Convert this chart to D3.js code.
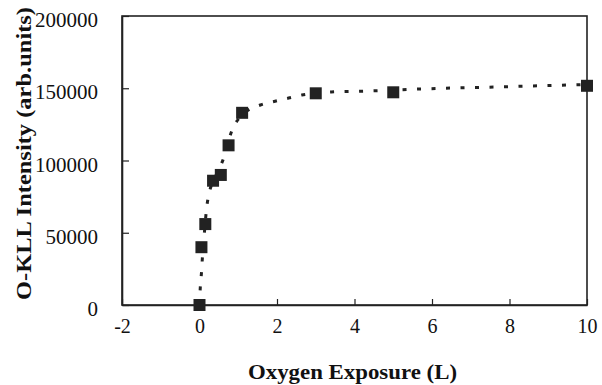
<!DOCTYPE html>
<html>
<head>
<meta charset="utf-8">
<script src="https://cdn.jsdelivr.net/npm/d3@7"></script>
<style>
  body { margin: 0; background: #fff; }
  svg { display: block; }
  svg text { font-family: "Liberation Serif", "DejaVu Serif", serif; }
</style>
</head>
<body>
<div id="chart"></div>
<script>
// measured exposure points
const exposure = [0, 0.05, 0.15, 0.35, 0.55, 0.75, 1.1, 3, 5, 10]
const intensity = [0, 40000, 56000, 86000, 90000, 110500, 133000, 146500, 147200, 151700]

// dotted fit curve
const fitExposure = [0, 0.02, 0.05, 0.08, 0.12, 0.19, 0.25, 0.4, 0.61, 0.84, 1.1, 1.57, 1.95, 2.3, 2.64, 3, 3.4, 4.1, 4.5, 5.5, 7.8, 10]
const fitIntensity = [0, 12000, 22000, 35000, 48000, 68500, 77500, 88000, 100700, 121000, 131500, 138400, 141000, 143200, 145300, 146600, 147400, 147900, 148200, 149300, 151000, 152600]

const xTicks = [-2, 0, 2, 4, 6, 8, 10]
const yTicks = [0, 50000, 100000, 150000, 200000]

const width = 602, height = 385
const margin = {top: 16, right: 15, bottom: 80, left: 122}

const x = d3.scaleLinear([-2, 10], [margin.left, width - margin.right])
const y = d3.scaleLinear([0, 200000], [height - margin.bottom, margin.top])

const svg = d3.select("#chart").append("svg")
  .attr("width", width)
  .attr("height", height)
  .attr("fill", "#111")

// frame
svg.append("rect")
  .attr("x", x(-2))
  .attr("y", y(200000))
  .attr("width", x(10) - x(-2))
  .attr("height", y(0) - y(200000))
  .attr("fill", "none")
  .attr("stroke", "#222")
  .attr("stroke-width", 1.6)

svg.append("g")
  .attr("transform", `translate(0,${y(0)})`)
  .call(d3.axisBottom(x).tickValues(xTicks).tickFormat(d => String(d)).tickSize(-6).tickPadding(14).tickSizeOuter(0))
  .attr("font-size", 20)
  .call(g => g.select(".domain").attr("stroke", "#222").attr("stroke-width", 1.6))
  .call(g => g.selectAll(".tick line").attr("stroke", "#222").attr("stroke-width", 1.2))
  .call(g => g.selectAll(".tick text").attr("fill", "#111"))

svg.append("g")
  .attr("transform", `translate(${x(-2)},0)`)
  .call(d3.axisLeft(y).tickValues(yTicks).tickFormat(d3.format("d")).tickSize(-7).tickPadding(24).tickSizeOuter(0))
  .attr("font-size", 21)
  .call(g => g.select(".domain").attr("stroke", "#222").attr("stroke-width", 1.6))
  .call(g => g.selectAll(".tick line").attr("stroke", "#222").attr("stroke-width", 1.2))
  .call(g => g.selectAll(".tick text").attr("dy", "0.5em").attr("fill", "#111"))

// fit line
const line = d3.line()
  .x(d => x(d[0]))
  .y(d => y(d[1]))
  .curve(d3.curveMonotoneX)

svg.append("path")
  .datum(d3.zip(fitExposure, fitIntensity))
  .attr("d", line)
  .attr("fill", "none")
  .attr("stroke", "#222")
  .attr("stroke-width", 3)
  .attr("stroke-dasharray", "4,10.5")

// markers
const size = 12
svg.append("g")
  .selectAll("rect")
  .data(d3.zip(exposure, intensity))
  .join("rect")
    .attr("x", d => x(d[0]) - size / 2)
    .attr("y", d => y(d[1]) - size / 2)
    .attr("width", size)
    .attr("height", size)
    .attr("fill", "#222")

// axis titles, stretched to the wide scanned typeface
svg.append("text")
  .attr("x", 248)
  .attr("y", 379)
  .attr("font-weight", "bold")
  .attr("font-size", 22)
  .attr("textLength", 209)
  .attr("lengthAdjust", "spacingAndGlyphs")
  .text("Oxygen Exposure (L)")

svg.append("text")
  .attr("transform", `translate(31,300) rotate(-90)`)
  .attr("font-weight", "bold")
  .attr("font-size", 22)
  .attr("textLength", 293)
  .attr("lengthAdjust", "spacingAndGlyphs")
  .text("O-KLL Intensity (arb.units)")
</script>
</body>
</html>
